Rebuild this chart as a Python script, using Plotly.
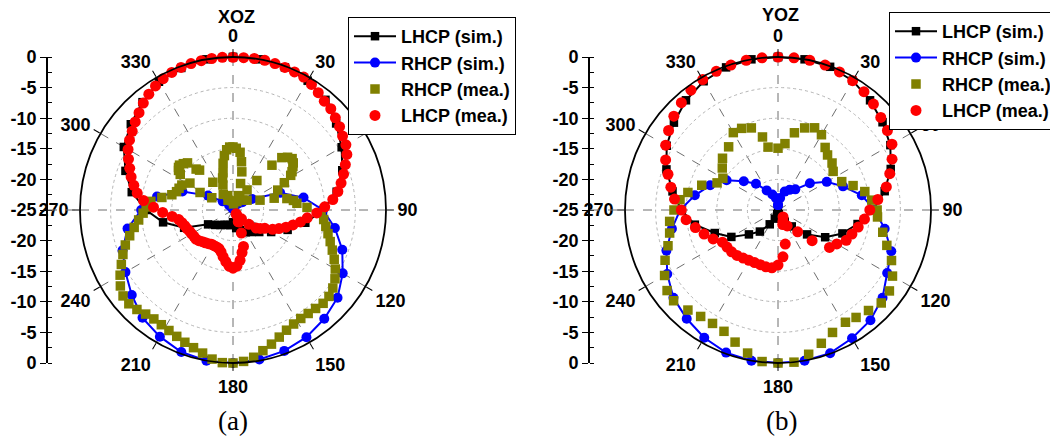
import plotly.graph_objects as go

# ---------------- Panel (a) XOZ ----------------
xoz_sim_theta = [0, 10, 20, 30, 40, 50, 60, 70, 80, 90, 100, 110, 120, 130, 140, 150, 160, 170,
                 180, 190, 200, 210, 220, 230, 240, 250, 260, 270, 280, 290, 300, 310, 320, 330, 340, 350, 360]
xoz_lhcp_sim = [0, 0, -0.2, -0.6, -1.5, -3.0, -4.5, -6.0, -7.8, -10.3, -13.0, -15.5, -17.8, -19.4, -20.3, -20.8,
                -21.5, -22.0, -23.0, -22.5, -22.4, -22.2, -21.8, -21.2, -20.3, -16.5, -13.4, -10.8, -8.2, -6.3,
                -4.4, -3.2, -2.0, -0.8, -0.3, 0, 0]
xoz_rhcp_sim = [-24.6, -24.4, -24.2, -24.0, -23.6, -23.0, -21.4, -16.8, -13.3, -10.3, -8.1, -6.0, -4.3, -2.7,
                -1.8, -1.0, -0.5, -0.2, 0, 0, -0.3, -1.1, -2.0, -3.4, -4.7, -5.8, -7.5, -10.0, -12.4, -16.2,
                -20.3, -22.8, -24.0, -24.4, -24.6, -24.8, -24.6]

xoz_lhcp_mea_theta = list(range(0, 360, 4))
xoz_lhcp_mea = [-0.05, -0.05, 0, 0, -0.1, -0.2, -0.3, -0.4, -0.8, -1.3, -1.8, -2.0, -2.5, -2.9, -3.4, -3.7,
                -4.3, -5.2, -6.0, -6.8, -7.6, -8.6, -10.0,
                -11.3, -12.8, -13.8, -14.9, -15.9, -16.9, -17.8, -19.0, -19.6, -20.2, -21.5, -23.0, -24.2,
                -24.0, -23.2, -22.8, -22.9, -21.0, -18.8, -17.9, -16.7, -15.8,
                -15.5, -15.8, -16.5, -17.2, -17.9, -18.3, -18.4, -18.4, -18.4, -18.2, -18.0, -17.8, -17.5,
                -17.3, -17.3, -17.2, -17.1, -16.9, -16.7, -16.4, -16.0, -15.0, -13.5,
                -12.0, -10.3, -9.1, -8.3, -7.5, -6.8, -6.0, -5.2, -4.6, -4.1, -3.5, -2.9, -2.2, -1.6,
                -1.1, -0.7, -0.4, -0.2, -0.1, -0.05, 0, 0]

xoz_rhcp_mea_theta = [92, 96, 100, 104, 108, 112, 116, 120, 124, 128, 132, 136, 140, 144, 148, 152, 156, 160,
                      164, 168, 172, 176, 180, 184, 188, 192, 196, 200, 204, 208, 212, 216, 220, 224, 228, 232,
                      236, 240, 244, 248, 252, 256, 260, 264, 268,
                      272, 276, 280, 284, 288, 292, 296, 298, 300, 302, 304, 306, 308, 310, 313, 316, 318, 320,
                      324, 328, 333, 338, 342, 345, 348, 351, 354, 357, 0, 3, 7, 10, 13, 16, 20, 25, 30, 35,
                      39, 41, 43, 46, 49, 52, 54, 57, 59, 62, 66, 70, 74, 78, 81, 84, 88, 45, 55, 5, 355, 340]
xoz_rhcp_mea = [-10.6, -10.1, -9.6, -9.0, -8.3, -7.5, -6.6, -5.7, -4.9, -4.3, -3.9, -3.8, -4.0, -4.1, -4.1,
                -3.9, -3.5, -2.9, -2.2, -1.5, -0.7, -0.2, 0, 0, -0.4, -1.1, -1.6, -2.0, -2.4, -2.7, -2.9,
                -3.0, -2.8, -2.4, -2.1, -2.2, -2.8, -3.7, -4.7, -5.6, -6.5, -7.6, -8.6, -9.5, -10.3,
                -10.8, -11.5, -13.2, -14.7, -15.3, -15.5, -15.7, -18.9, -21.0, -16.7, -14.6, -14.0, -13.7,
                -13.6, -13.9, -14.3, -16.0, -16.5, -19.4, -22.0, -23.2, -20.6, -19.5, -18.7, -17.2, -16.0,
                -15.1, -14.7, -14.7, -14.9, -15.5, -17.0, -18.6, -20.5, -22.5, -23.5, -22.8, -21.0, -18.8,
                -15.3, -13.3, -12.6, -12.2, -12.5, -12.9, -13.5, -14.0, -15.5, -17.0, -20.3, -18.0, -16.0,
                -15.0, -14.5, -12.9, -22.7, -22.2, -24.0, -23.5, -22.5]

# ---------------- Panel (b) YOZ ----------------
yoz_sim_theta = xoz_sim_theta
yoz_lhcp_sim = [0, 0, -0.1, -0.6, -1.6, -2.7, -3.8, -5.4, -7.3, -9.5, -11.8, -13.8, -16.1, -18.8, -21.5,
                -22.8, -23.6, -24.3, -25.0, -24.3, -23.5, -22.3, -20.4, -18.8, -16.2, -14.0, -11.2, -9.2,
                -7.5, -5.6, -4.0, -2.8, -1.6, -0.7, -0.2, 0, 0]
yoz_rhcp_sim = [-24.2, -23.0, -21.8, -21.2, -20.6, -18.2, -15.8, -13.7, -11.1, -9.2, -7.3, -5.3, -4.4, -2.7,
                -1.5, -0.8, -0.1, 0, 0, 0, -0.2, -0.9, -1.8, -2.7, -4.1, -5.6, -7.4, -9.0, -11.2, -13.2,
                -15.3, -17.7, -19.4, -21.3, -22.3, -23.0, -24.2]

yoz_lhcp_mea_theta = list(range(0, 360, 6))
yoz_lhcp_mea = [0, 0, 0, -0.1, -0.3, -0.6, -1.1, -1.7, -2.4, -2.9, -3.5, -4.6, -5.8, -6.9, -8.6, -10.0,
                -10.8, -11.6, -12.3, -12.8, -13.9, -14.6, -17.5, -20.2, -23.6, -22.0, -23.0, -22.5, -19.3,
                -17.3, -16.0, -15.5, -15.5, -15.6, -15.6, -15.5, -15.3, -15.0, -14.8, -14.7, -14.5, -13.4,
                -12.3, -11.2, -9.9, -9.2, -8.0, -7.1, -6.1, -4.9, -3.8, -2.9, -2.1, -1.4, -0.8, -0.4, -0.2,
                -0.1, 0, 0]

yoz_rhcp_mea_theta = [0, 6, 12, 18, 24, 30, 37, 42, 49, 55, 66, 72, 78, 84, 90, 94, 102, 108, 114, 120, 126,
                      132, 138, 144, 149, 156, 162, 168, 174, 180, 186, 192, 198, 204, 210, 216, 222, 229, 234,
                      240, 246, 252, 258, 264, 270, 276, 281, 288, 294, 300, 307, 313, 322, 330, 336, 342, 348, 351]
yoz_rhcp_mea = [-14.9, -14.1, -12.1, -10.9, -10.3, -10.8, -12.2, -12.9, -13.3, -14.0, -13.6, -12.1, -10.5,
                -9.6, -8.8, -8.7, -7.5, -6.3, -4.7, -3.4, -2.5, -2.3, -2.9, -3.3, -3.6, -3.1, -2.1, -0.9, 0,
                0, -0.1, -1.1, -2.3, -3.3, -3.6, -3.5, -3.0, -2.4, -2.6, -3.6, -4.8, -6.1, -6.9, -7.2, -8.0,
                -8.9, -10.0, -11.9, -14.1, -14.6, -13.6, -12.6, -11.9, -10.4, -10.4, -10.9, -12.8, -14.6]

angle_ticks = list(range(0, 360, 30))
angle_labels = [str(a) for a in angle_ticks]
db_tickvals = [-25, -20, -15, -10, -5, 0, 5, 10, 15, 20, 25]
db_ticktext = ['0', '-5', '-10', '-15', '-20', '-25', '-20', '-15', '-10', '-5', '0']

names = ['LHCP (sim.)', 'RHCP (sim.)', 'RHCP (mea.)', 'LHCP (mea.)']


def b(s):
    return '<b>' + s + '</b>'


BOLD = dict(family='Liberation Sans, Arial, sans-serif', size=18, color='black')

fig = go.Figure()


def add_panel(subplot, legend, th_sim, lsim, rsim, th_rm, rmea, th_lm, lmea):
    fig.add_trace(go.Scatterpolar(theta=th_sim, r=lsim, mode='lines+markers', name=b(names[0]),
                                  line=dict(color='black', width=2),
                                  marker=dict(symbol='square', size=8.5, color='black'),
                                  subplot=subplot, legend=legend))
    fig.add_trace(go.Scatterpolar(theta=th_sim, r=rsim, mode='lines+markers', name=b(names[1]),
                                  line=dict(color='#0000FF', width=2),
                                  marker=dict(symbol='circle', size=10, color='#0000FF'),
                                  subplot=subplot, legend=legend))
    fig.add_trace(go.Scatterpolar(theta=th_rm, r=rmea, mode='markers', name=b(names[2]),
                                  marker=dict(symbol='square', size=9.5, color='#808000'),
                                  subplot=subplot, legend=legend))
    fig.add_trace(go.Scatterpolar(theta=th_lm, r=lmea, mode='markers', name=b(names[3]),
                                  marker=dict(symbol='circle', size=11, color='#FF0000'),
                                  subplot=subplot, legend=legend))


add_panel('polar', 'legend', xoz_sim_theta, xoz_lhcp_sim, xoz_rhcp_sim,
          xoz_rhcp_mea_theta, xoz_rhcp_mea, xoz_lhcp_mea_theta, xoz_lhcp_mea)
add_panel('polar2', 'legend2', yoz_sim_theta, yoz_lhcp_sim, yoz_rhcp_sim,
          yoz_rhcp_mea_theta, yoz_rhcp_mea, yoz_lhcp_mea_theta, yoz_lhcp_mea)

W, H = 1050, 437
ydom = [1 - 363 / H, 1 - 57 / H]


def polar_layout(x0, x1):
    return dict(
        domain=dict(x=[x0 / W, x1 / W], y=ydom),
        bgcolor='white',
        radialaxis=dict(range=[-25, 0], tickvals=[-20, -15, -10, -5], showticklabels=False,
                        ticks='', showline=False, gridcolor='#b4b4b4', griddash='dot', gridwidth=1),
        angularaxis=dict(direction='clockwise', rotation=90, tickmode='array', tickvals=angle_ticks,
                         ticktext=[b(t) for t in angle_labels], tickfont=BOLD, showline=True,
                         linecolor='black', linewidth=1.8, ticks='outside', ticklen=7, tickcolor='black',
                         tickwidth=1.2, gridcolor='#6e6e6e', griddash='dash', gridwidth=1),
    )


def left_axes(x0, x1):
    xa = dict(domain=[x0 / W, x1 / W], range=[0, 1], visible=False, fixedrange=True)
    ya = dict(domain=ydom, range=[-25, 25], tickvals=db_tickvals, ticktext=[b(t) for t in db_ticktext],
              ticks='outside', ticklen=6, tickwidth=1.2, tickcolor='black', showline=True,
              linecolor='black', linewidth=1.6, showgrid=False, zeroline=False, tickfont=BOLD,
              minor=dict(ticks='inside', dtick=2.5, ticklen=4, tickcolor='black', showgrid=False))
    return xa, ya


xa1, ya1 = left_axes(48, 80)
xa2, ya2 = left_axes(590, 625)
ya1['anchor'] = 'x'
ya2['anchor'] = 'x2'
xa1['anchor'] = 'y'
xa2['anchor'] = 'y2'

legend_common = dict(xanchor='left', yanchor='top', bgcolor='white', bordercolor='black', borderwidth=1,
                     font=BOLD, itemwidth=42, tracegroupgap=0)

fig.update_layout(
    width=W, height=H,
    margin=dict(l=0, r=0, t=0, b=0, autoexpand=False),
    paper_bgcolor='white', plot_bgcolor='rgba(0,0,0,0)',
    showlegend=True,
    polar=polar_layout(80, 386),
    polar2=polar_layout(625, 931),
    xaxis=xa1, yaxis=ya1, xaxis2=xa2, yaxis2=ya2,
    legend=dict(x=348 / W, y=1 - 17 / H, **legend_common),
    legend2=dict(x=889 / W, y=1 - 12 / H, **legend_common),
    shapes=[
        dict(type='line', xref='x', yref='y', x0=0, x1=1, y0=0, y1=0,
             line=dict(color='#6e6e6e', width=1, dash='dash')),
        dict(type='line', xref='x2', yref='y2', x0=0, x1=1, y0=0, y1=0,
             line=dict(color='#6e6e6e', width=1, dash='dash')),
    ],
    annotations=[
        dict(text=b('XOZ'), x=236 / W, y=1 - 17 / H, xref='paper', yref='paper', showarrow=False,
             font=BOLD, xanchor='center', yanchor='middle'),
        dict(text=b('YOZ'), x=780 / W, y=1 - 15 / H, xref='paper', yref='paper', showarrow=False,
             font=BOLD, xanchor='center', yanchor='middle'),
        dict(text='(a)', x=233 / W, y=1 - 421 / H, xref='paper', yref='paper', showarrow=False,
             font=dict(family='Liberation Serif, Times New Roman, serif', size=27, color='black'),
             xanchor='center', yanchor='middle'),
        dict(text='(b)', x=781 / W, y=1 - 421 / H, xref='paper', yref='paper', showarrow=False,
             font=dict(family='Liberation Serif, Times New Roman, serif', size=27, color='black'),
             xanchor='center', yanchor='middle'),
    ],
)

fig.write_html('out.html')
